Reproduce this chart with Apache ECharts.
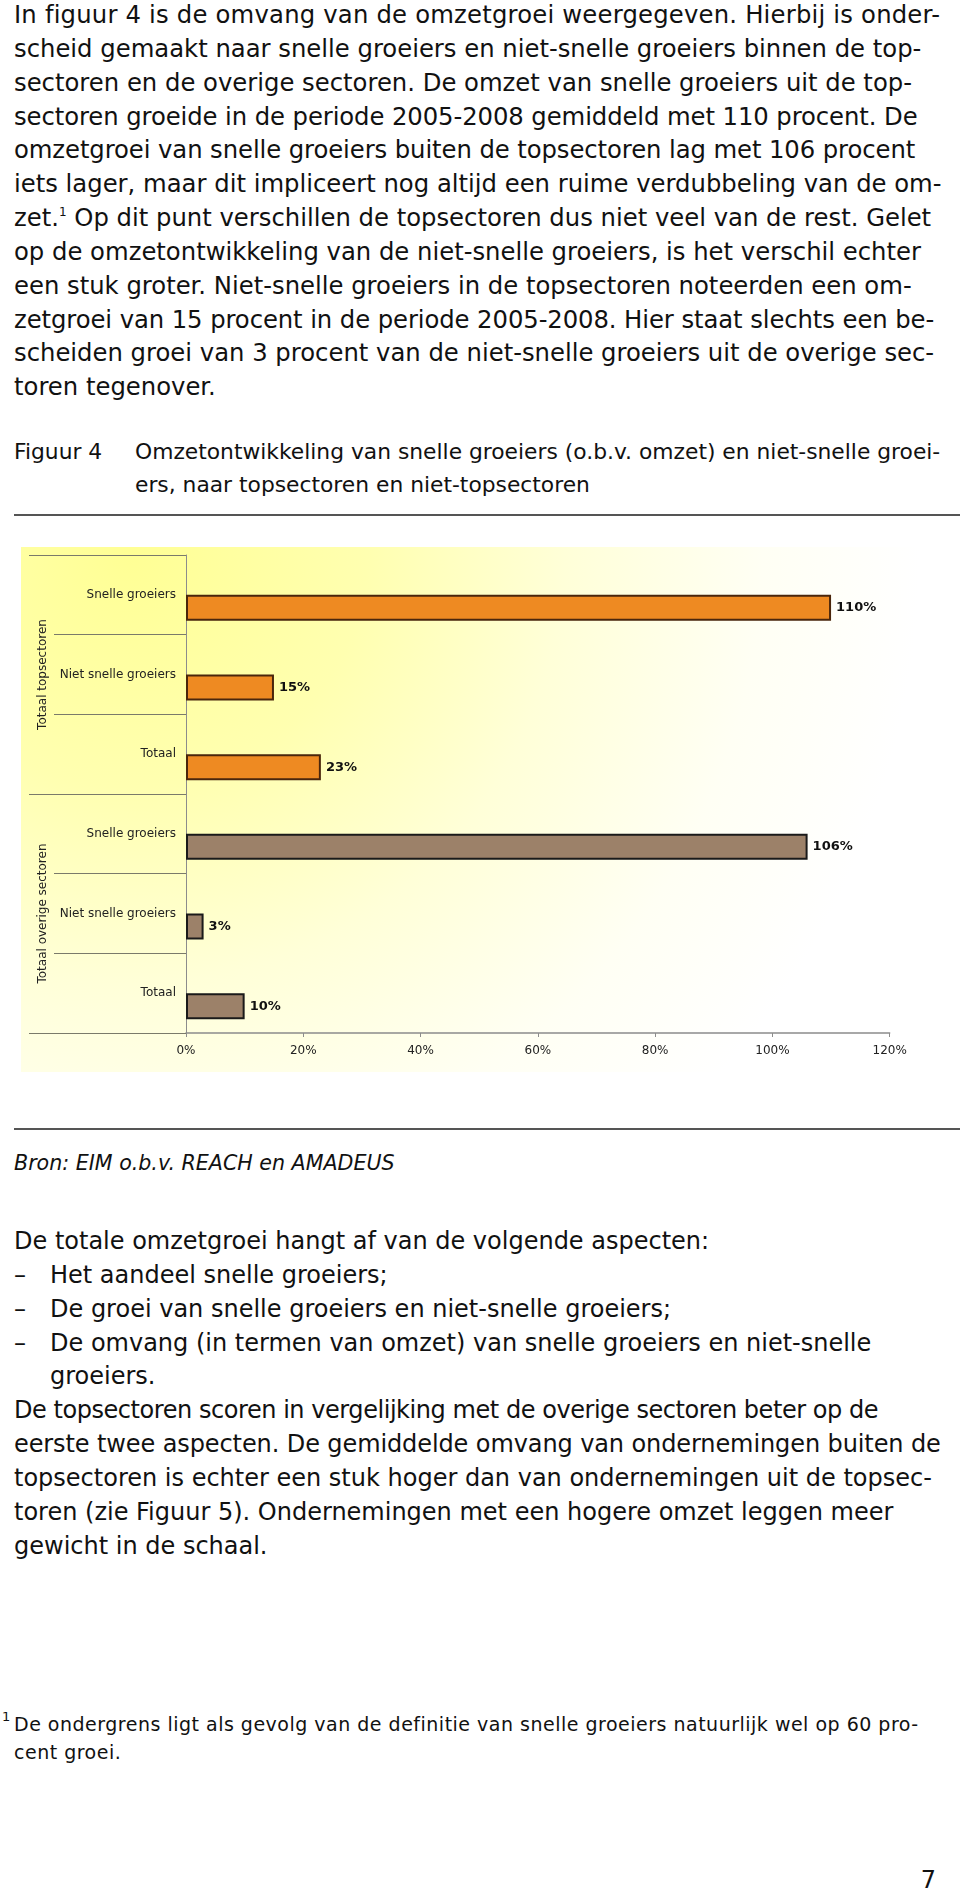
<!DOCTYPE html>
<html>
<head>
<meta charset="utf-8">
<script src="https://cdn.jsdelivr.net/npm/echarts@6/dist/echarts.min.js"></script>
<style>
  html, body { margin: 0; padding: 0; background: #ffffff; }
  body { width: 960px; height: 1890px; position: relative; overflow: hidden;
         font-family: "DejaVu Sans", Verdana, sans-serif; color: #111; }
  .txt { position: absolute; left: 14px; white-space: nowrap; font-size: 24px; line-height: 33.85px; }
  .txt div { white-space: nowrap; }
  sup { font-size: 12px; vertical-align: 10px; line-height: 0; }
  .dash { display: inline-block; width: 36px; }
  .ind { padding-left: 36px; }
  #chart { position: absolute; left: 0; top: 520px; width: 960px; height: 560px; }
  .rule { position: absolute; left: 14px; right: 0; background: #555; }
</style>
</head>
<body>
<div class="txt" style="top:-2px;font-size:24.3px;">
<div style="letter-spacing:0.2px;">In figuur 4 is de omvang van de omzetgroei weergegeven. Hierbij is onder-</div>
<div>scheid gemaakt naar snelle groeiers en niet-snelle groeiers binnen de top-</div>
<div>sectoren en de overige sectoren. De omzet van snelle groeiers uit de top-</div>
<div style="letter-spacing:-0.08px;">sectoren groeide in de periode 2005-2008 gemiddeld met 110 procent. De</div>
<div style="letter-spacing:-0.08px;">omzetgroei van snelle groeiers buiten de topsectoren lag met 106 procent</div>
<div>iets lager, maar dit impliceert nog altijd een ruime verdubbeling van de om-</div>
<div>zet.<sup>1</sup> Op dit punt verschillen de topsectoren dus niet veel van de rest. Gelet</div>
<div>op de omzetontwikkeling van de niet-snelle groeiers, is het verschil echter</div>
<div>een stuk groter. Niet-snelle groeiers in de topsectoren noteerden een om-</div>
<div style="letter-spacing:-0.08px;">zetgroei van 15 procent in de periode 2005-2008. Hier staat slechts een be-</div>
<div>scheiden groei van 3 procent van de niet-snelle groeiers uit de overige sec-</div>
<div>toren tegenover.</div>
</div>

<div class="txt" style="top:435px;font-size:21.8px;line-height:33px;">
<div><span style="display:inline-block;width:121px;">Figuur 4</span>Omzetontwikkeling van snelle groeiers (o.b.v. omzet) en niet-snelle groei-</div>
<div style="padding-left:121px;">ers, naar topsectoren en niet-topsectoren</div>
</div>
<div class="rule" style="top:514px;height:2px;"></div>

<div id="chart"></div>

<div class="rule" style="top:1128px;height:2px;"></div>
<div class="txt" style="top:1149px;font-size:20.6px;line-height:28px;font-style:italic;">Bron: EIM o.b.v. REACH en AMADEUS</div>

<div class="txt" style="top:1225px;">
<div>De totale omzetgroei hangt af van de volgende aspecten:</div>
<div><span class="dash">–</span>Het aandeel snelle groeiers;</div>
<div><span class="dash">–</span>De groei van snelle groeiers en niet-snelle groeiers;</div>
<div><span class="dash">–</span>De omvang (in termen van omzet) van snelle groeiers en niet-snelle</div>
<div class="ind">groeiers.</div>
<div style="letter-spacing:-0.45px;">De topsectoren scoren in vergelijking met de overige sectoren beter op de</div>
<div style="letter-spacing:-0.1px;">eerste twee aspecten. De gemiddelde omvang van ondernemingen buiten de</div>
<div>topsectoren is echter een stuk hoger dan van ondernemingen uit de topsec-</div>
<div>toren (zie Figuur 5). Ondernemingen met een hogere omzet leggen meer</div>
<div>gewicht in de schaal.</div>
</div>

<div class="txt" style="left:2px;top:1707px;font-size:13px;line-height:20px;">1</div>
<div class="txt" style="top:1710px;font-size:19px;line-height:28px;letter-spacing:0.5px;">
<div>De ondergrens ligt als gevolg van de definitie van snelle groeiers natuurlijk wel op 60 pro-</div>
<div>cent groei.</div>
</div>

<div class="txt" style="left:auto;right:24px;top:1864px;">7</div>

<script>
// ---- data ----
var categories = ["Snelle groeiers", "Niet snelle groeiers", "Totaal",
                  "Snelle groeiers", "Niet snelle groeiers", "Totaal"];
var groups = ["Totaal topsectoren", "Totaal overige sectoren"];
var groupOfCategory = [0, 0, 0, 1, 1, 1];
var growthValues = [110, 15, 23, 106, 3, 10];
var xTicks = [0, 20, 40, 60, 80, 100, 120];

// ---- styles ----
var groupFill = ["#EE8A22", "#9C8169"];
var groupBorder = ["#4A260C", "#1A1A1A"];
var FONT = "DejaVu Sans";

var chart = echarts.init(document.getElementById('chart'), null, { renderer: 'canvas' });

var barData = growthValues.map(function (v, i) {
  var g = groupOfCategory[i];
  return { value: v, itemStyle: { color: groupFill[g], borderColor: groupBorder[g], borderWidth: 2 } };
});

var option = {
  animation: false,
  backgroundColor: 'transparent',
  graphic: {
    elements: [{
      type: 'rect', z: -100, silent: true,
      shape: { x: 21, y: 27, width: 934, height: 525 },
      style: {
        fill: {
          type: 'radial', x: 130, y: 30, r: 790, global: true,
          colorStops: [
            { offset: 0, color: '#FFFF94' },
            { offset: 0.3, color: '#FFFFB0' },
            { offset: 0.55, color: '#FFFFD8' },
            { offset: 0.8, color: '#FFFFF4' },
            { offset: 1, color: '#FFFFFF' }
          ]
        }
      }
    }]
  },
  grid: { left: 186, top: 35, width: 703.7, height: 478, containLabel: false },
  xAxis: {
    type: 'value', min: xTicks[0], max: xTicks[xTicks.length - 1], interval: 20,
    axisLine: { show: true, lineStyle: { color: '#8C8C8C', width: 1.5 } },
    axisTick: { show: true, length: 4, lineStyle: { color: '#8C8C8C' } },
    splitLine: { show: false },
    axisLabel: { formatter: '{value}%', fontFamily: FONT, fontSize: 12, color: '#222', margin: 12 }
  },
  yAxis: [
    {
      type: 'category', inverse: true, data: categories,
      axisLine: { show: true, lineStyle: { color: '#8C8C8C', width: 1 } },
      axisTick: { show: true, length: 132, lineStyle: { color: '#7A7A6A', width: 1 } },
      axisLabel: { fontFamily: FONT, fontSize: 12, color: '#222', margin: 10 },
      splitLine: { show: false }
    },
    {
      type: 'category', inverse: true, data: groups, position: 'left', offset: 0,
      axisLine: { show: false },
      axisTick: { show: true, length: 157, lineStyle: { color: '#7A7A6A', width: 1 } },
      axisLabel: { fontFamily: FONT, fontSize: 12, color: '#222', rotate: 90, margin: 137 },
      splitLine: { show: false }
    }
  ],
  series: [
    {
      name: 'ruimte', type: 'bar', yAxisIndex: 0, barWidth: 26, barGap: '0%',
      data: categories.map(function () { return null; }), silent: true
    },
    {
      name: 'Omzetgroei', type: 'bar', yAxisIndex: 0, barWidth: 26, barGap: '0%',
      data: barData,
      label: {
        show: true, position: 'right', distance: 5, formatter: '{c}%',
        fontFamily: FONT, fontSize: 13, fontWeight: 'bold', color: '#111'
      }
    }
  ]
};
chart.setOption(option);
</script>
</body>
</html>
